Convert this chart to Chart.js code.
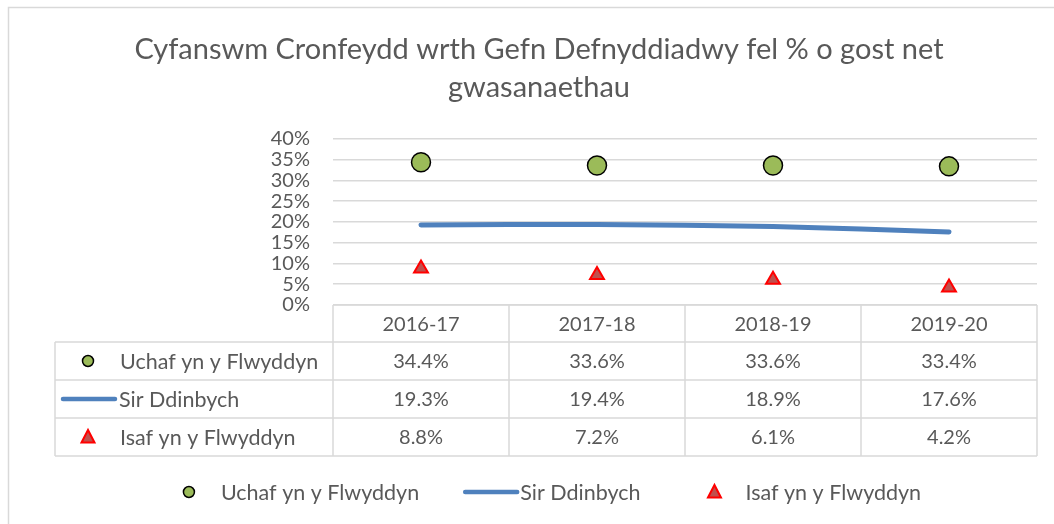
<!DOCTYPE html>
<html>
<head>
<meta charset="utf-8">
<script src="https://cdn.jsdelivr.net/npm/chart.js@4.4.0/dist/chart.umd.min.js"></script>
<style>
  body { margin: 0; background: #fff; }
  canvas { display: block; }
</style>
</head>
<body>
<canvas id="reserveChart" width="1054" height="524"></canvas>
<script>
const years = ["2016-17", "2017-18", "2018-19", "2019-20"];
const highestValues = [34.4, 33.6, 33.6, 33.4];
const denbighshireValues = [19.3, 19.4, 18.9, 17.6];
const lowestValues = [8.8, 7.2, 6.1, 4.2];
const seriesNames = ["Uchaf yn y Flwyddyn", "Sir Ddinbych", "Isaf yn y Flwyddyn"];
const chartTitle = ["Cyfanswm Cronfeydd wrth Gefn Defnyddiadwy fel % o gost net", "gwasanaethau"];

const textColor = "#595959";
const gridColor = "#d9d9d9";
const fontFamily = "Lato, 'Open Sans', sans-serif";

// draw the little legend key for a series (circle, line or triangle)
function drawKey(ctx, index, cx, cy) {
  ctx.save();
  if (index === 0) {
    ctx.beginPath();
    ctx.arc(cx, cy, 5.5, 0, Math.PI * 2);
    ctx.fillStyle = "#9bbb59";
    ctx.fill();
    ctx.lineWidth = 1.5;
    ctx.strokeStyle = "#000";
    ctx.stroke();
  } else if (index === 1) {
    ctx.beginPath();
    ctx.moveTo(cx - 26, cy);
    ctx.lineTo(cx + 26, cy);
    ctx.lineWidth = 4.5;
    ctx.lineCap = "round";
    ctx.strokeStyle = "#4f81bd";
    ctx.stroke();
  } else {
    ctx.beginPath();
    ctx.moveTo(cx, cy - 7);
    ctx.lineTo(cx - 6.5, cy + 5.5);
    ctx.lineTo(cx + 6.5, cy + 5.5);
    ctx.closePath();
    ctx.fillStyle = "#c0504d";
    ctx.fill();
    ctx.lineWidth = 2;
    ctx.strokeStyle = "#ff0000";
    ctx.stroke();
  }
  ctx.restore();
}

const tableAndLegend = {
  id: "tableAndLegend",
  beforeDraw(chart) {
    const ctx = chart.ctx;
    ctx.save();
    ctx.fillStyle = "#fff";
    ctx.fillRect(0, 0, chart.width, chart.height);
    ctx.strokeStyle = gridColor;
    ctx.lineWidth = 1.5;
    ctx.strokeRect(8.5, 7.5, chart.width + 20, chart.height + 20);
    ctx.restore();
  },
  afterDraw(chart) {
    const ctx = chart.ctx;
    const area = chart.chartArea;
    const xScale = chart.scales.x;
    const colWidth = (area.right - area.left) / years.length;
    const tableLeft = 55;
    const headerTop = area.bottom;
    const headerHeight = 37;
    const rowHeight = 38;
    const rowsTop = headerTop + headerHeight;
    const tableBottom = rowsTop + rowHeight * seriesNames.length;
    const rows = [highestValues, denbighshireValues, lowestValues];

    ctx.save();
    ctx.strokeStyle = gridColor;
    ctx.lineWidth = 1.5;
    ctx.beginPath();
    // horizontal lines
    ctx.moveTo(area.left, headerTop);
    ctx.lineTo(area.right, headerTop);
    for (let r = 0; r <= seriesNames.length; r++) {
      const y = rowsTop + r * rowHeight;
      ctx.moveTo(tableLeft, y);
      ctx.lineTo(area.right, y);
    }
    // vertical lines
    ctx.moveTo(tableLeft, rowsTop);
    ctx.lineTo(tableLeft, tableBottom);
    for (let c = 0; c <= years.length; c++) {
      const x = area.left + c * colWidth;
      ctx.moveTo(x, headerTop);
      ctx.lineTo(x, tableBottom);
    }
    ctx.stroke();

    ctx.fillStyle = textColor;
    ctx.font = "20px " + fontFamily;
    ctx.textBaseline = "middle";
    ctx.textAlign = "center";
    years.forEach((year, i) => {
      const x = xScale.getPixelForValue(i);
      ctx.fillText(year, x, headerTop + headerHeight / 2 + 1);
      rows.forEach((vals, r) => {
        ctx.fillText(vals[i].toFixed(1) + "%", x, rowsTop + r * rowHeight + rowHeight / 2 + 1);
      });
    });

    const nameFont = "21.5px " + fontFamily;
    ctx.font = nameFont;
    ctx.textAlign = "left";
    seriesNames.forEach((name, r) => {
      const cy = rowsTop + r * rowHeight + rowHeight / 2;
      drawKey(ctx, r, r === 1 ? 89 : 88, cy);
      ctx.fillStyle = textColor;
      ctx.fillText(name, r === 1 ? 119 : 120, cy + 1);
    });

    // bottom legend
    const legendY = 492;
    const keyWidths = [64, 59, 63];
    const widths = seriesNames.map((n, i) => keyWidths[i] + ctx.measureText(n).width);
    const gap = 42;
    const total = widths.reduce((a, b) => a + b, 0) + gap * (widths.length - 1);
    let x = 539 - total / 2;
    seriesNames.forEach((name, i) => {
      const keyCenter = i === 1 ? x + 30 : x + 32;
      drawKey(ctx, i, keyCenter, legendY);
      ctx.fillStyle = textColor;
      ctx.fillText(name, x + keyWidths[i], legendY + 1);
      x += widths[i] + gap;
    });
    ctx.restore();
  }
};

new Chart(document.getElementById("reserveChart"), {
  type: "line",
  data: {
    labels: years,
    datasets: [
      {
        label: seriesNames[0],
        data: highestValues,
        showLine: false,
        pointStyle: "circle",
        pointRadius: 9.5,
        pointBackgroundColor: "#9bbb59",
        pointBorderColor: "#000",
        pointBorderWidth: 1.5,
        order: 1
      },
      {
        label: seriesNames[1],
        data: denbighshireValues,
        borderColor: "#4f81bd",
        borderWidth: 5,
        borderCapStyle: "round",
        tension: 0.3,
        pointRadius: 0,
        order: 2
      },
      {
        label: seriesNames[2],
        data: lowestValues,
        showLine: false,
        pointStyle: "triangle",
        pointRadius: 8,
        pointBackgroundColor: "#c0504d",
        pointBorderColor: "#ff0000",
        pointBorderWidth: 2,
        order: 0
      }
    ]
  },
  options: {
    responsive: false,
    animation: false,
    layout: { padding: { left: 41, right: 17, top: 0, bottom: 219 } },
    plugins: {
      legend: { display: false },
      tooltip: { enabled: false },
      title: {
        display: true,
        text: chartTitle,
        color: textColor,
        font: { family: fontFamily, size: 29, weight: 400, lineHeight: 1.31 },
        padding: { top: 31, bottom: 32 }
      }
    },
    scales: {
      x: {
        display: false,
        offset: true
      },
      y: {
        min: 0,
        max: 40,
        afterFit(scale) { scale.width = 292; },
        border: { display: false },
        grid: { color: gridColor, lineWidth: 1.5, drawTicks: false },
        ticks: {
          stepSize: 5,
          autoSkip: false,
          padding: 23,
          color: textColor,
          font: { family: fontFamily, size: 20 },
          callback: (v) => v + "%"
        }
      }
    }
  },
  plugins: [tableAndLegend]
});
</script>
</body>
</html>
